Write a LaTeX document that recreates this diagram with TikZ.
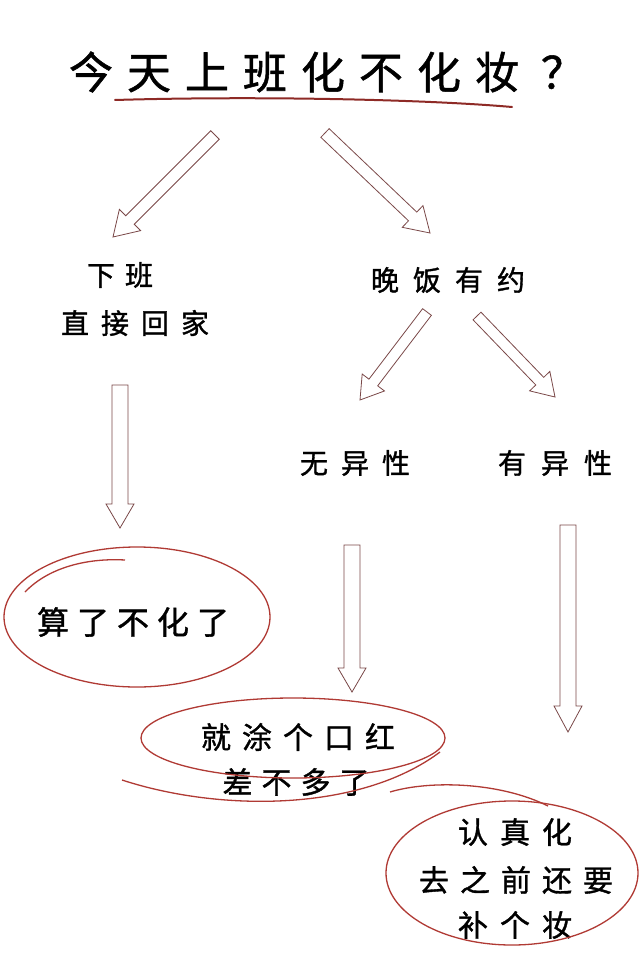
\documentclass[tikz,border=0pt]{standalone}
\usepackage{fontspec}
\newfontfamily\cjk[FakeBold=1.2]{Noto Sans CJK SC}
\usetikzlibrary{calc}
\definecolor{inkred}{HTML}{B03A34}
\definecolor{arrowink}{HTML}{7A4848}
\definecolor{ulred}{HTML}{8E2A26}
\newcommand{\kg}[1]{\hspace{#1}}
\newcommand{\blockarr}[5]{%
  \path coordinate (tmpH) at ($(#2)!#5!(#1)$);
  \draw[arrowline] ($(#1)!#3!90:(#2)$) -- ($(tmpH)!#3!-90:(#1)$) -- ($(tmpH)!#4!-90:(#1)$) -- (#2)
    -- ($(tmpH)!#4!90:(#1)$) -- ($(tmpH)!#3!90:(#1)$) -- ($(#1)!#3!-90:(#2)$) -- cycle;}
\begin{document}
\begin{tikzpicture}[x=1pt,y=-1pt,
  txt/.style={font=\cjk\fontsize{28}{34}\selectfont, inner sep=0pt, text=black},
  btxt/.style={font=\cjk\fontsize{30}{36}\selectfont, inner sep=0pt, text=black},
  arrowline/.style={draw=arrowink, line width=0.8pt, fill=white, line join=miter},
  ell/.style={draw=inkred, line width=1.3pt},
  ]
\useasboundingbox[fill=white] (0,0) rectangle (640,968);

% title
\node[inner sep=0pt, font=\cjk\fontsize{44}{50}\selectfont] (title) at (327,72)
  {今\kg{14pt}天\kg{14pt}上\kg{14pt}班\kg{14pt}化\kg{14pt}不\kg{14pt}化\kg{14pt}妆\kg{22pt}？};
\coordinate (ulA) at (115,100);
\coordinate (ulB) at (512,107);
\draw[ulred, line width=2pt, line cap=round] (ulA) .. controls (250,96) and (420,99) .. (ulB);

% level 1 texts
\node[txt] (xb1) at (120,275) {下\kg{10pt}班};
\node[txt] (xb2) at (135,323) {直\kg{12pt}接\kg{12pt}回\kg{12pt}家};
\node[txt] (wf) at (448,280) {晚\kg{14pt}饭\kg{14pt}有\kg{14pt}约};

% level 2 texts
\node[txt] (wy) at (355,463) {无\kg{13pt}异\kg{13pt}性};
\node[txt] (yy) at (555,463) {有\kg{15pt}异\kg{15pt}性};

% outcome texts
\node[btxt, font=\cjk\fontsize{32}{38}\selectfont] (r1) at (133,622) {算\kg{8pt}了\kg{8pt}不\kg{8pt}化\kg{8pt}了};
\node[btxt] (r2a) at (298,737) {就\kg{11pt}涂\kg{11pt}个\kg{11pt}口\kg{11pt}红};
\node[btxt] (r2b) at (296,782) {差\kg{9pt}不\kg{9pt}多\kg{9pt}了};
\node[btxt] (r3a) at (515,832) {认\kg{12pt}真\kg{12pt}化};
\node[btxt] (r3b) at (516,880) {去\kg{11pt}之\kg{11pt}前\kg{11pt}还\kg{11pt}要};
\node[btxt] (r3c) at (515,925) {补\kg{12pt}个\kg{12pt}妆};

% arrow end points
\coordinate (a1s) at (215,135); \coordinate (a1e) at (113,237);
\coordinate (a2s) at (325,133); \coordinate (a2e) at (430,233);
\coordinate (a3s) at (427,312); \coordinate (a3e) at (360,400);
\coordinate (a4s) at (477,316); \coordinate (a4e) at (555,397);
\coordinate (a5s) at (120,385); \coordinate (a5e) at (120,528);
\coordinate (a6s) at (352,545); \coordinate (a6e) at (352,692);
\coordinate (a7s) at (568,525); \coordinate (a7e) at (568,732);

\blockarr{a1s}{a1e}{6pt}{15pt}{24pt}
\blockarr{a2s}{a2e}{6pt}{15pt}{24pt}
\blockarr{a3s}{a3e}{5.5pt}{14pt}{22pt}
\blockarr{a4s}{a4e}{5.5pt}{14pt}{22pt}
\blockarr{a5s}{a5e}{8pt}{14pt}{24pt}
\blockarr{a6s}{a6e}{8pt}{14pt}{24pt}
\blockarr{a7s}{a7e}{8pt}{14pt}{26pt}

% ellipses
\draw[ell] (137,617) ellipse [x radius=133, y radius=70];
\draw[ell] (25,592) .. controls (50,566) and (90,558) .. (125,560);

\draw[ell] (293,738) ellipse [x radius=152, y radius=40];
\draw[ell] (122,780) .. controls (220,812) and (360,812) .. (440,752);

\draw[ell] (512,873) ellipse [x radius=126, y radius=72];
\draw[ell] (390,792) .. controls (430,780) and (500,782) .. (548,806);
\end{tikzpicture}
\end{document}
